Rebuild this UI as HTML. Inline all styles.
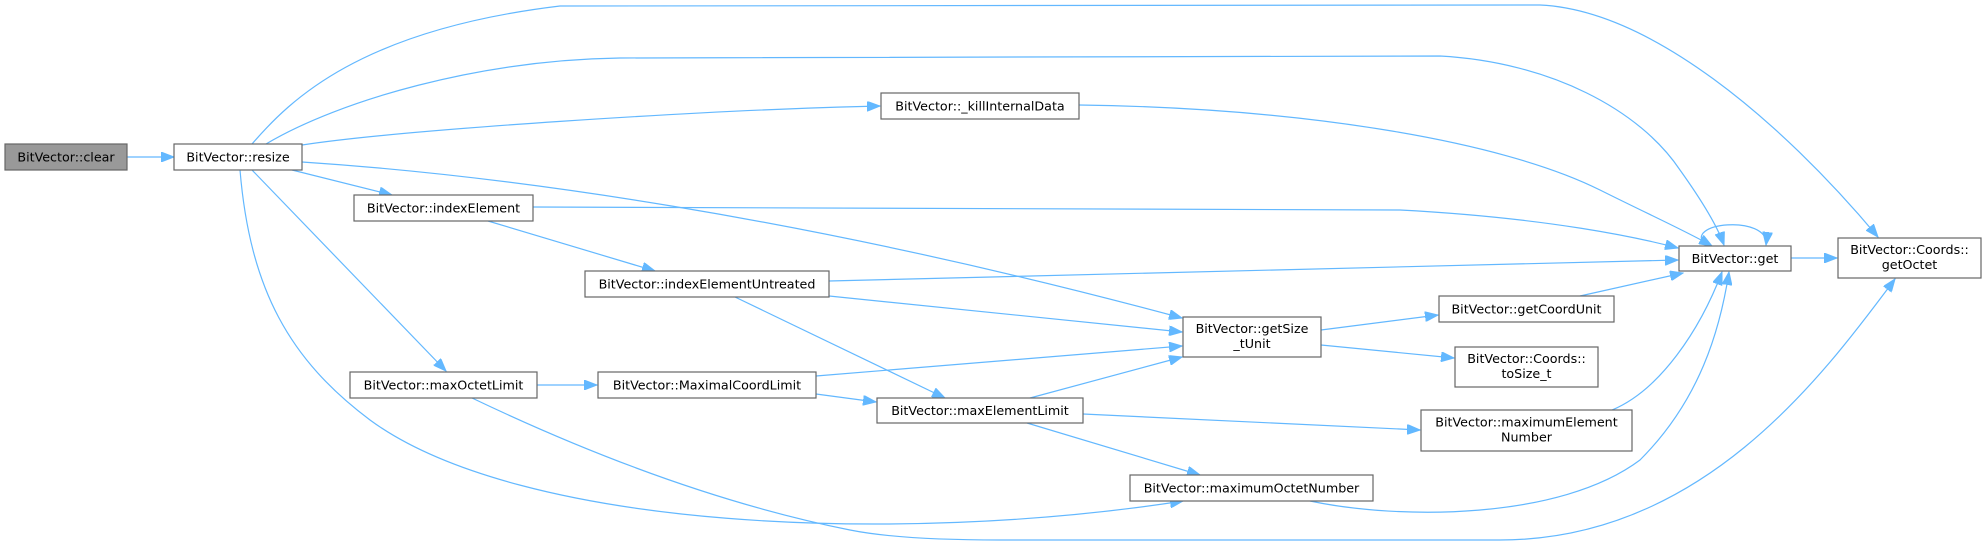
<!DOCTYPE html>
<html><head><meta charset="utf-8"><style>
html,body{margin:0;padding:0;background:#fff;}
svg{display:block;}
text{font-family:"DejaVu Sans","Liberation Sans",sans-serif;font-size:12.7px;fill:#000;}
.n{fill:#fff;stroke:#666;stroke-width:1.2;}
.e{fill:none;stroke:#63b8ff;stroke-width:1.2;}
</style></head><body>
<svg width="1987" height="545" viewBox="0 0 1987 545" xmlns="http://www.w3.org/2000/svg">
<defs><marker id="a" markerWidth="14" markerHeight="10" refX="13" refY="5" orient="auto" markerUnits="userSpaceOnUse"><path d="M0,0 L13,5 L0,10 Z" fill="#63b8ff" stroke="#63b8ff"/></marker></defs>
<g class="edges">
<path class="e" marker-end="url(#a)" d="M127,157 L174,157"/>
<path class="e" marker-end="url(#a)" d="M252,144 C290,100 360,30 560,6 L1540,5 C1650,10 1780,120 1878,237"/>
<path class="e" marker-end="url(#a)" d="M266,144 C340,100 480,60 620,58 L1440,56 C1550,62 1640,110 1680,170 C1705,205 1718,228 1724,245"/>
<path class="e" marker-end="url(#a)" d="M302,145 C400,130 700,110 880,106"/>
<path class="e" marker-end="url(#a)" d="M302,162 C500,175 800,215 1182,318"/>
<path class="e" marker-end="url(#a)" d="M292,170 L392,195"/>
<path class="e" marker-end="url(#a)" d="M252,170 L446,371"/>
<path class="e" marker-end="url(#a)" d="M240,170 C250,290 290,360 370,420 C520,530 900,545 1183,501"/>
<path class="e" marker-end="url(#a)" d="M472,398 C560,440 700,500 850,530 Q900,540 1000,540 L1500,540 C1700,540 1820,380 1895,279"/>
<path class="e" marker-end="url(#a)" d="M537,385 L597,385"/>
<path class="e" marker-end="url(#a)" d="M816,376 L1182,346"/>
<path class="e" marker-end="url(#a)" d="M816,394 L876,402"/>
<path class="e" marker-end="url(#a)" d="M533,207 L1400,210 C1550,218 1640,238 1678,248"/>
<path class="e" marker-end="url(#a)" d="M488,221 L655,271"/>
<path class="e" marker-end="url(#a)" d="M829,281 L1678,260"/>
<path class="e" marker-end="url(#a)" d="M829,296 L1182,332"/>
<path class="e" marker-end="url(#a)" d="M735,297 L945,398"/>
<path class="e" marker-end="url(#a)" d="M1030,398 L1182,357"/>
<path class="e" marker-end="url(#a)" d="M1083,414 L1420,430"/>
<path class="e" marker-end="url(#a)" d="M1027,423 L1200,475"/>
<path class="e" marker-end="url(#a)" d="M1079,105 C1300,108 1500,140 1600,190 C1650,215 1690,233 1712,246"/>
<path class="e" marker-end="url(#a)" d="M1321,330 L1438,315"/>
<path class="e" marker-end="url(#a)" d="M1321,345 L1454,358"/>
<path class="e" marker-end="url(#a)" d="M1580,296 L1683,273"/>
<path class="e" marker-end="url(#a)" d="M1612,410 C1660,390 1700,330 1722,272"/>
<path class="e" marker-end="url(#a)" d="M1310,501 C1400,520 1560,520 1640,460 C1700,400 1720,330 1729,272"/>
<path class="e" marker-end="url(#a)" d="M1791,258 L1837,258"/>
<path class="e" marker-end="url(#a)" d="M1706,246 C1680,222 1770,214 1766,245"/>
</g>
<g>
<rect x="5" y="144" width="122" height="26" fill="#999" stroke="#666" stroke-width="1.2"/>
<text x="66" y="161.5" text-anchor="middle">BitVector::clear</text>
<rect class="n" x="174" y="144" width="128" height="26"/>
<text x="238" y="161.5" text-anchor="middle">BitVector::resize</text>
<rect class="n" x="354" y="195" width="179" height="26"/>
<text x="443.5" y="212.5" text-anchor="middle">BitVector::indexElement</text>
<rect class="n" x="585" y="271" width="244" height="26"/>
<text x="707" y="288.5" text-anchor="middle">BitVector::indexElementUntreated</text>
<rect class="n" x="881" y="93" width="198" height="26"/>
<text x="980" y="110.5" text-anchor="middle">BitVector::_killInternalData</text>
<rect class="n" x="1183" y="317" width="138" height="40"/>
<text x="1252" y="333" text-anchor="middle">BitVector::getSize</text>
<text x="1252" y="348" text-anchor="middle">_tUnit</text>
<rect class="n" x="350" y="372" width="187" height="26"/>
<text x="443.5" y="389.5" text-anchor="middle">BitVector::maxOctetLimit</text>
<rect class="n" x="598" y="372" width="218" height="26"/>
<text x="707" y="389.5" text-anchor="middle">BitVector::MaximalCoordLimit</text>
<rect class="n" x="877" y="398" width="206" height="25"/>
<text x="980" y="415" text-anchor="middle">BitVector::maxElementLimit</text>
<rect class="n" x="1130" y="475" width="243" height="26"/>
<text x="1251.5" y="492.5" text-anchor="middle">BitVector::maximumOctetNumber</text>
<rect class="n" x="1439" y="296" width="175" height="26"/>
<text x="1526.5" y="313.5" text-anchor="middle">BitVector::getCoordUnit</text>
<rect class="n" x="1455" y="347" width="143" height="40"/>
<text x="1526.5" y="363" text-anchor="middle">BitVector::Coords::</text>
<text x="1526.5" y="378" text-anchor="middle">toSize_t</text>
<rect class="n" x="1421" y="410" width="211" height="41"/>
<text x="1526.5" y="426.5" text-anchor="middle">BitVector::maximumElement</text>
<text x="1526.5" y="441.5" text-anchor="middle">Number</text>
<rect class="n" x="1679" y="246" width="112" height="25"/>
<text x="1735" y="263" text-anchor="middle">BitVector::get</text>
<rect class="n" x="1838" y="238" width="143" height="40"/>
<text x="1909.5" y="254" text-anchor="middle">BitVector::Coords::</text>
<text x="1909.5" y="269" text-anchor="middle">getOctet</text>
</g>
</svg>
</body></html>
